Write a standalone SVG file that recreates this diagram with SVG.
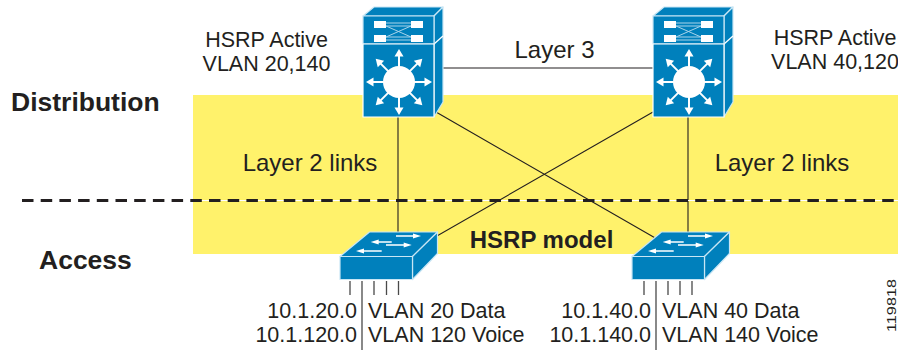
<svg xmlns="http://www.w3.org/2000/svg" width="898" height="350" viewBox="0 0 898 350">
<style>
text{font-family:"Liberation Sans",Arial,sans-serif;fill:#231f20}
.t{font-size:21.5px}
.l{font-size:24px}
.b{font-size:26.500px;font-weight:bold}
.c{stroke:#231f20;stroke-width:1.1;fill:none}
.bl{fill:#0080bc;stroke:#c8e6f5;stroke-width:1.2;stroke-linejoin:round}
.w{fill:#fff}
.wl{stroke:#fff;stroke-width:1.3;fill:none}
.p{stroke:#4a4a4a;stroke-width:1.3;fill:none}
</style>
<defs>
<g id="ray"><path class="wl" style="stroke-width:2" d="M0,-15V-27"/><path class="w" d="M0,-33L-4.500,-25.500H4.500Z"/></g>
<g id="mls">
<path class="bl" d="M0,9L11,0H80L71,9Z"/>
<path class="bl" d="M71,110V9L80,0V95Z"/>
<path class="wl" d="M71,37L80,29"/>
<rect class="bl" x="0" y="9" width="71" height="28"/>
<rect class="bl" x="0" y="37" width="71" height="73" style="stroke:#fff"/>
<rect class="w" x="11" y="14" width="12" height="7"/><rect class="w" x="48" y="14" width="12" height="7"/>
<rect class="w" x="11" y="28" width="12" height="7"/><rect class="w" x="48" y="28" width="12" height="7"/>
<path d="M23,16H48M23,19H48M23,30H48M23,33H48M23,19L48,30M23,30L48,19" stroke="#a8d4ea" stroke-width="1" fill="none"/>
<g transform="translate(36,75)">
<circle class="w" r="16"/>
<use href="#ray"/><use href="#ray" transform="rotate(45)"/><use href="#ray" transform="rotate(90)"/><use href="#ray" transform="rotate(135)"/><use href="#ray" transform="rotate(180)"/><use href="#ray" transform="rotate(225)"/><use href="#ray" transform="rotate(270)"/><use href="#ray" transform="rotate(315)"/>
</g>
</g>
<g id="sw">
<path class="bl" d="M0,24.500L29.500,0H97.500L72.500,24.500Z"/>
<path class="bl" d="M72.500,24.500L97.500,0V21.500L72.500,47.500Z"/>
<rect class="bl" x="0" y="24.500" width="72.500" height="23"/>
<path class="wl" d="M56,4H75M41.700,19H22M51.700,10H36M46,13H66"/>
<path class="w" d="M81,4L73,1.500V6.500ZM16,19L24,16.500V21.500ZM30.700,10L38.700,7.500V12.500ZM71.700,13L63.700,10.500V15.500Z"/>
</g>
</defs>
<rect x="193" y="95" width="705" height="159" fill="#fff26b"/>
<g id="connectors">
<path class="c" d="M443,68H653M398,117V256M688,117V232M436,112L657,239M653,112L402,256"/>
<path d="M193,200.500H898" stroke="#fff" stroke-width="1" fill="none"/>
<path d="M22,200.500H898" stroke="#231f20" stroke-width="3" stroke-dasharray="11.500 7.200" fill="none"/>
<path class="p" d="M350,281V295M362,281V350M374,281V295M386.500,281V295M398.500,281V295"/>
<path class="p" d="M644,281V295M656,281V350M668,281V295M680,281V295M692,281V295"/>
</g>
<g id="dist-left"><use href="#mls" transform="translate(363,7)"/></g>
<g id="dist-right"><use href="#mls" transform="translate(653,7)"/></g>
<g id="access-left"><use href="#sw" transform="translate(340,232)"/></g>
<g id="access-right"><use href="#sw" transform="translate(632,232)"/></g>
<g id="labels">
<text class="b" x="11" y="111">Distribution</text>
<text class="b" x="39" y="269">Access</text>
<text class="t" x="266.500" y="47" text-anchor="middle">HSRP Active</text>
<text class="t" x="266.500" y="71" text-anchor="middle">VLAN 20,140</text>
<text class="t" x="835" y="45" text-anchor="middle">HSRP Active</text>
<text class="t" x="835" y="69" text-anchor="middle">VLAN 40,120</text>
<text class="l" x="554.500" y="58" text-anchor="middle">Layer 3</text>
<text class="l" x="310" y="171" text-anchor="middle">Layer 2 links</text>
<text class="l" x="782" y="171" text-anchor="middle">Layer 2 links</text>
<text x="541.500" y="248" text-anchor="middle" style="font-size:24px;font-weight:bold">HSRP model</text>
<text class="t" x="357" y="318" text-anchor="end">10.1.20.0</text>
<text class="t" x="357" y="342" text-anchor="end">10.1.120.0</text>
<text class="t" x="368" y="318">VLAN 20 Data</text>
<text class="t" x="368" y="342">VLAN 120 Voice</text>
<text class="t" x="651" y="318" text-anchor="end">10.1.40.0</text>
<text class="t" x="651" y="342" text-anchor="end">10.1.140.0</text>
<text class="t" x="662" y="318">VLAN 40 Data</text>
<text class="t" x="662" y="342">VLAN 140 Voice</text>
<text transform="translate(896,332) rotate(-90)" textLength="53" lengthAdjust="spacingAndGlyphs" style="font-size:13.500px">119818</text>
</g>
</svg>
